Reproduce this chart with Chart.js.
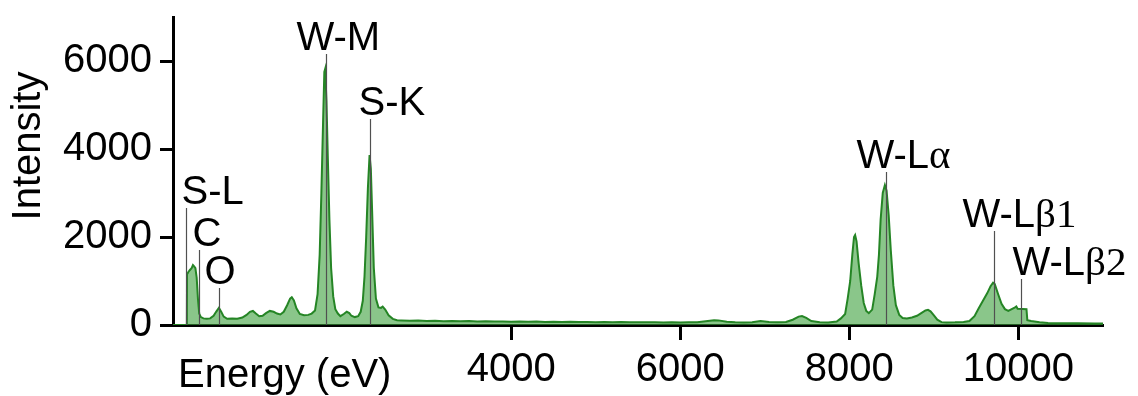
<!DOCTYPE html>
<html lang="en">
<head>
<meta charset="UTF-8" />
<title>EDS spectrum</title>
<script src="https://cdn.jsdelivr.net/npm/chart.js"></script>
<style>
  html, body { margin: 0; padding: 0; background: #fff; }
  #wrap { width: 1138px; height: 396px; }
</style>
</head>
<body>
<div id="wrap"><canvas id="spectrum" width="1138" height="396"></canvas></div>
<script>
// spectrum samples: energy in eV, counts
const energy = [
  0, 150, 164, 166, 180, 200, 220, 236, 250, 265, 280, 295, 310, 330, 360, 400, 440, 480, 510, 543,
  570, 600, 640, 700, 760, 820, 870, 910, 945, 980, 1020, 1060, 1100, 1145, 1190, 1230, 1270, 1310, 1350, 1385,
  1405, 1430, 1460, 1500, 1550, 1600, 1640, 1680, 1710, 1735, 1755, 1775, 1790, 1800, 1815, 1830, 1850, 1870, 1895, 1920,
  1950, 1980, 2020, 2055, 2085, 2110, 2150, 2190, 2220, 2245, 2265, 2285, 2305, 2325, 2340, 2355, 2375, 2400, 2430, 2460,
  2480, 2510, 2550, 2600, 2650, 2700, 2800, 2900, 3000, 3100, 3200, 3300, 3400, 3500, 3600, 3700, 3800, 3900, 4000, 4100,
  4200, 4300, 4400, 4500, 4600, 4700, 4800, 4900, 5000, 5100, 5200, 5300, 5400, 5500, 5600, 5700, 5800, 5900, 6000, 6100,
  6200, 6300, 6400, 6450, 6550, 6650, 6750, 6850, 6950, 7050, 7150, 7250, 7330, 7400, 7440, 7490, 7550, 7650, 7750, 7850,
  7900, 7950, 7980, 8010, 8035, 8055, 8068, 8085, 8110, 8140, 8170, 8200, 8230, 8270, 8300, 8330, 8350, 8370, 8395, 8420,
  8440, 8465, 8490, 8520, 8550, 8590, 8630, 8680, 8740, 8800, 8850, 8900, 8930, 8960, 9000, 9040, 9090, 9150, 9250, 9350,
  9420, 9480, 9530, 9580, 9630, 9670, 9700, 9720, 9760, 9800, 9840, 9880, 9920, 9960, 9975, 9990, 10050, 10095, 10105, 10150,
  10250, 10350, 10500, 10700, 10900, 11000
];
const counts = [
  0, 0, 0, 1150, 1200, 1250, 1290, 1360, 1330, 1290, 1080, 600, 260, 180, 150, 140, 150, 210, 300, 390,
  300, 190, 140, 150, 140, 170, 230, 300, 320, 260, 200, 210, 270, 320, 300, 260, 240, 300, 450, 600,
  630, 560, 380, 250, 220, 230, 260, 330, 700, 1600, 3000, 4600, 5750, 5820, 5100, 3900, 2400, 1300, 650, 360,
  260, 200, 250, 300, 270, 210, 180, 200, 300, 550, 1100, 2000, 3100, 3860, 3550, 2600, 1300, 600, 400, 390,
  420, 350, 220, 140, 110, 105, 95, 100, 90, 96, 88, 92, 84, 90, 80, 86, 78, 82, 75, 80,
  72, 78, 70, 75, 68, 72, 66, 70, 64, 68, 62, 66, 60, 64, 60, 62, 58, 62, 58, 60,
  64, 85, 110, 105, 75, 62, 58, 65, 90, 70, 60, 70, 120, 190, 205, 160, 90, 60, 58, 80,
  150, 250, 600, 1000, 1600, 2000, 2045, 1900, 1400, 900, 500, 320, 270, 350, 700, 1100, 1600, 2400, 3000, 3180,
  3050, 2500, 1700, 900, 450, 230, 160, 150, 170, 210, 270, 330, 345, 310, 220, 120, 65, 55, 60, 70,
  90, 200, 380, 550, 720, 880, 960, 930, 700, 480, 360, 320, 360, 400, 420, 370, 365, 360, 110, 90,
  65, 45, 40, 38, 35, 35
];

// emission lines marked on the spectrum
const peakNames = ["S-L", "C", "O", "W-M", "S-K", "W-Lα", "W-Lβ1", "W-Lβ2"];
const peakEnergies = [150, 305, 545, 1805, 2335, 8430, 9705, 10025];

const xTicks = [4000, 6000, 8000, 10000];
const yTicks = [0, 2000, 4000, 6000];

// label placement: [left offset from the marker line, text baseline] in px
const labelPos = [[-5, 204], [-7, 246], [-15, 284], [-30, 50], [-12, 115], [-30, 168], [-32, 227], [-9, 275]];

const SANS = '"Liberation Sans", Arial, sans-serif';
const SERIF = '"Liberation Serif", "Times New Roman", serif';

// draws "W-L" in sans and the greek part (α, β1 ...) in serif
function drawLabel(ctx, text, x, base) {
  const m = text.match(/^([^α-ω]*)(.*)$/);
  ctx.fillStyle = '#000';
  ctx.textAlign = 'left';
  ctx.textBaseline = 'alphabetic';
  ctx.font = '40px ' + SANS;
  ctx.fillText(m[1], x, base);
  if (m[2]) {
    const w = ctx.measureText(m[1]).width;
    ctx.font = '41px ' + SERIF;
    ctx.fillText(m[2], x + w, base);
  }
}

const peakMarkers = {
  id: 'peakMarkers',
  afterDatasetsDraw(chart) {
    const { ctx, scales: { x, y } } = chart;
    const y0 = y.getPixelForValue(0);
    ctx.save();
    peakNames.forEach((name, i) => {
      const px = Math.round(x.getPixelForValue(peakEnergies[i])) + 0.5;
      const [dx, base] = labelPos[i];
      ctx.strokeStyle = '#505050';
      ctx.lineWidth = 1.2;
      ctx.beginPath();
      ctx.moveTo(px, base + 4);
      ctx.lineTo(px, y0);
      ctx.stroke();
      drawLabel(ctx, name, px + dx, base);
    });
    ctx.restore();
  }
};

const axisTitles = {
  id: 'axisTitles',
  afterDraw(chart) {
    const { ctx, chartArea } = chart;
    ctx.save();
    ctx.fillStyle = '#000';
    ctx.font = '40px ' + SANS;
    ctx.textAlign = 'left';
    ctx.textBaseline = 'alphabetic';
    ctx.fillText('Energy (eV)', chartArea.left + 5, 387);
    ctx.translate(29, 146);
    ctx.rotate(-Math.PI / 2);
    ctx.textAlign = 'center';
    ctx.textBaseline = 'middle';
    ctx.fillText('Intensity', 0, 0);
    ctx.restore();
  }
};

const plainNumber = v => String(v);

new Chart(document.getElementById('spectrum'), {
  type: 'line',
  data: {
    datasets: [{
      data: energy.map((e, i) => ({ x: e, y: counts[i] })),
      borderColor: '#258525',
      borderWidth: 2,
      backgroundColor: 'rgba(60,160,60,0.6)',
      fill: 'origin',
      pointRadius: 0,
      tension: 0
    }]
  },
  options: {
    responsive: false,
    animation: false,
    layout: { padding: { top: 17, right: 35, left: 0, bottom: 0 } },
    plugins: { legend: { display: false }, tooltip: { enabled: false } },
    scales: {
      x: {
        type: 'linear',
        min: 0,
        max: 11000,
        afterBuildTicks: s => { s.ticks = xTicks.map(v => ({ value: v })); },
        afterFit: s => { s.height = 71; s.paddingLeft = 0; s.paddingRight = 0; },
        border: { color: '#000', width: 3 },
        grid: { drawOnChartArea: false, tickLength: 15, tickWidth: 3, tickColor: '#000' },
        ticks: { color: '#000', font: { family: SANS, size: 40 }, padding: 6, maxRotation: 0, callback: plainNumber }
      },
      y: {
        min: 0,
        max: 7000,
        afterBuildTicks: s => { s.ticks = yTicks.map(v => ({ value: v })); },
        afterFit: s => { s.width = 173; s.paddingTop = 0; s.paddingBottom = 0; },
        border: { color: '#000', width: 3 },
        grid: { drawOnChartArea: false, tickLength: 13, tickWidth: 3, tickColor: '#000' },
        ticks: { color: '#000', font: { family: SANS, size: 40 }, padding: 8, callback: plainNumber }
      }
    }
  },
  plugins: [peakMarkers, axisTitles]
});
</script>
</body>
</html>
